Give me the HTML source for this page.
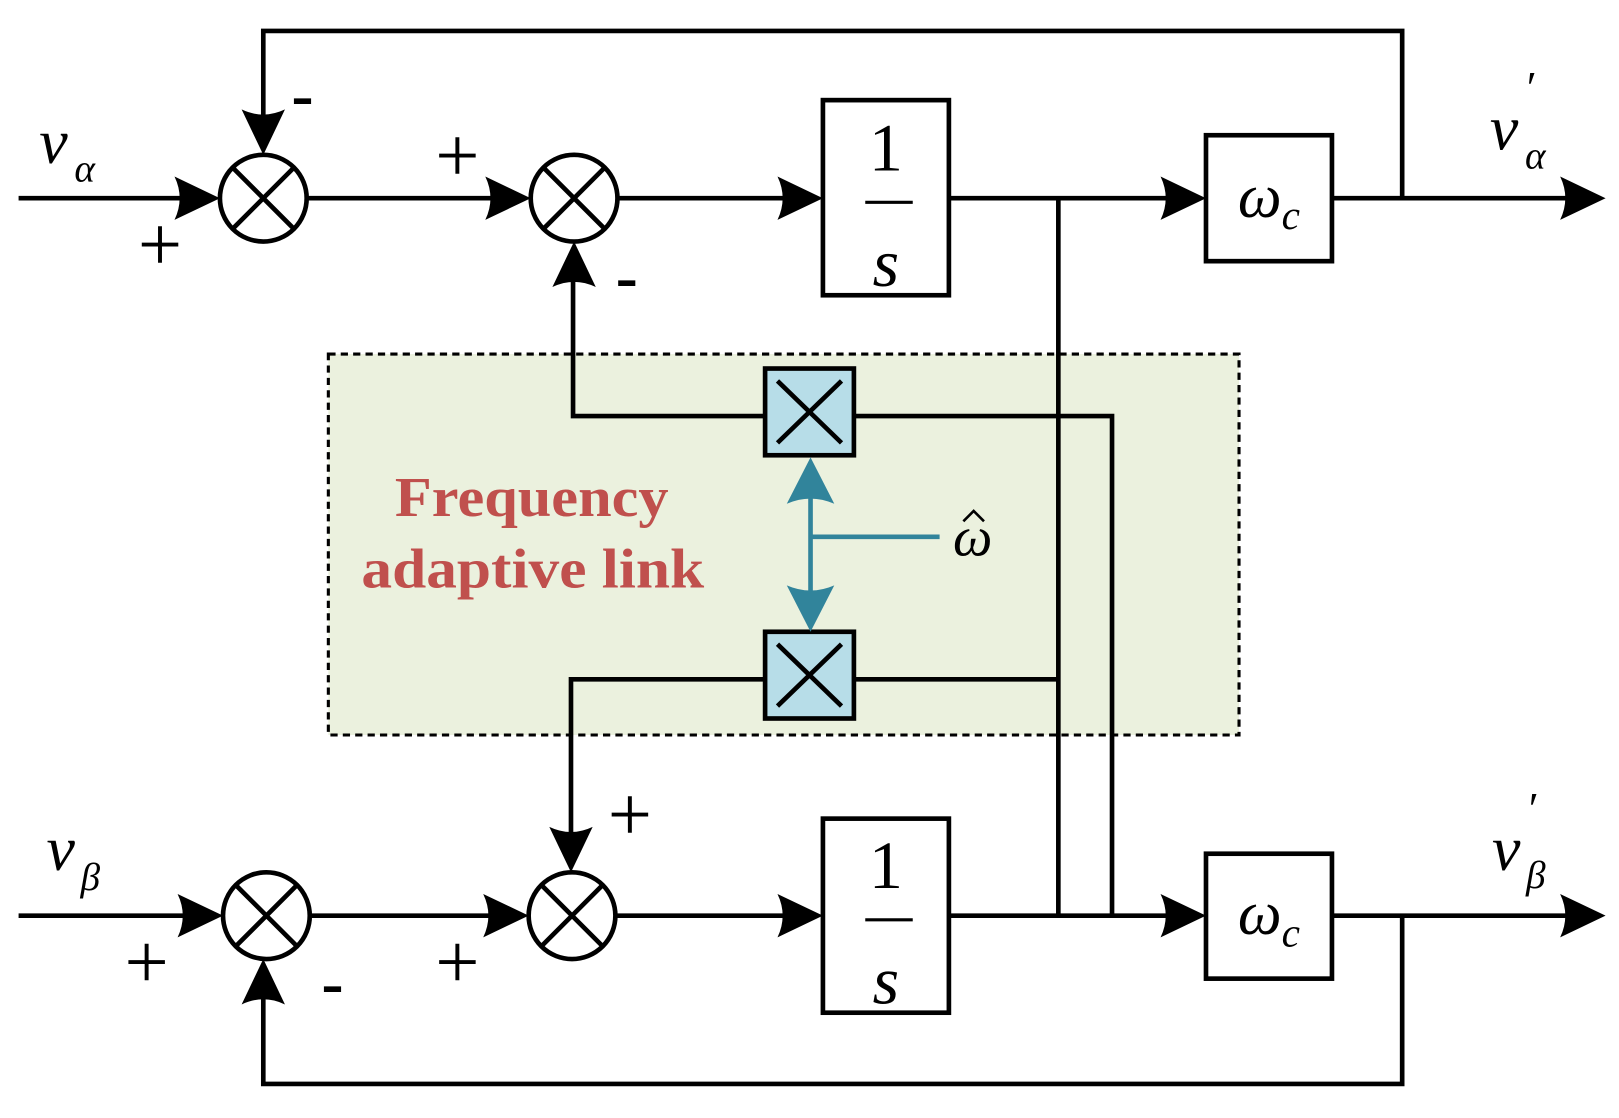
<!DOCTYPE html>
<html><head><meta charset="utf-8"><style>html,body{margin:0;padding:0;background:#fff}svg{display:block}</style></head>
<body>
<svg width="1619" height="1118" viewBox="0 0 1568 1083" preserveAspectRatio="none" xmlns="http://www.w3.org/2000/svg">
<defs>
<path id="ar" d="M0,0 L-44,-21 Q-34,0 -44,21 Z"/>
</defs>
<rect x="318" y="343" width="882" height="369" fill="#ebf1de" stroke="#000" stroke-width="3" stroke-dasharray="7,5"/>
<g fill="none" stroke="#000" stroke-width="4.5">
<line x1="18" y1="192" x2="200" y2="192"/>
<line x1="297" y1="192" x2="500" y2="192"/>
<line x1="598" y1="192" x2="780" y2="192"/>
<line x1="919" y1="192" x2="1150" y2="192"/>
<line x1="1290" y1="192" x2="1530" y2="192"/>
<polyline points="1358,192 1358,30 255,30 255,130"/>
<circle cx="255" cy="192" r="42"/><circle cx="556" cy="192" r="42"/>
<path d="M225,162 L285,222 M285,162 L225,222 M526,162 L586,222 M586,162 L526,222"/>
<rect x="797" y="97" width="122" height="189"/>
<rect x="1168" y="131" width="122" height="122"/>
<line x1="18" y1="887" x2="200" y2="887"/>
<line x1="300" y1="887" x2="500" y2="887"/>
<line x1="596" y1="887" x2="780" y2="887"/>
<line x1="919" y1="887" x2="1150" y2="887"/>
<line x1="1290" y1="887" x2="1530" y2="887"/>
<polyline points="1358,887 1358,1050 255,1050 255,950"/>
<circle cx="258" cy="887" r="42"/><circle cx="554" cy="887" r="42"/>
<path d="M228,857 L288,917 M288,857 L228,917 M524,857 L584,917 M584,857 L524,917"/>
<rect x="797" y="793" width="122" height="188"/>
<rect x="1168" y="827" width="122" height="121"/>
<line x1="1025" y1="192" x2="1025" y2="887"/>
<polyline points="827,403 1077,403 1077,887"/>
<polyline points="741,403 555,403 555,255"/>
<line x1="827" y1="658" x2="1025" y2="658"/>
<polyline points="741,658 553,658 553,825"/>
</g>
<g fill="#000">
<use href="#ar" transform="translate(213,192)"/>
<use href="#ar" transform="translate(514,192)"/>
<use href="#ar" transform="translate(797,192)"/>
<use href="#ar" transform="translate(1168,192)"/>
<use href="#ar" transform="translate(1555,192)"/>
<use href="#ar" transform="translate(255,150) rotate(90)"/>
<use href="#ar" transform="translate(556,234) rotate(-90)"/>
<use href="#ar" transform="translate(216,887)"/>
<use href="#ar" transform="translate(512,887)"/>
<use href="#ar" transform="translate(797,887)"/>
<use href="#ar" transform="translate(1168,887)"/>
<use href="#ar" transform="translate(1555,887)"/>
<use href="#ar" transform="translate(255,929) rotate(-90)"/>
<use href="#ar" transform="translate(553,845) rotate(90)"/>
</g>
<g stroke="#000" stroke-width="4.5" fill="#b7dde8">
<rect x="741" y="357" width="86" height="84"/>
<rect x="741" y="612" width="86" height="84"/>
</g>
<path d="M753,369 L815,429 M815,369 L753,429 M753,624 L815,684 M815,624 L753,684" stroke="#000" stroke-width="4.5"/>
<g stroke="#31849b" stroke-width="4.5" fill="#31849b">
<line x1="785" y1="470" x2="785" y2="585"/>
<line x1="785" y1="520" x2="910" y2="520"/>
<path stroke="none" d="M785,443 L762,488 Q785,478 808,488 Z M785,612 L762,567 Q785,577 808,567 Z"/>
</g>
<g font-family="Liberation Serif, serif" fill="#000">
<text x="38" y="158" font-size="62" font-style="italic">v</text>
<text x="72" y="176" font-size="38" font-style="italic">α</text>
<text x="1443" y="145" font-size="62" font-style="italic">v</text>
<text x="1476" y="100" font-size="44" font-style="italic">′</text>
<text x="1477" y="163" font-size="38" font-style="italic">α</text>
<text x="45" y="843" font-size="62" font-style="italic">v</text>
<text x="78" y="862" font-size="38" font-style="italic">β</text>
<text x="1445" y="843" font-size="62" font-style="italic">v</text>
<text x="1478" y="798" font-size="44" font-style="italic">′</text>
<text x="1478" y="860" font-size="38" font-style="italic">β</text>
<text x="858" y="165" font-size="66" text-anchor="middle">1</text>
<text x="858" y="277" font-size="66" font-style="italic" text-anchor="middle">s</text>
<text x="858" y="860" font-size="66" text-anchor="middle">1</text>
<text x="858" y="972" font-size="66" font-style="italic" text-anchor="middle">s</text>
<text x="1229" y="210" font-size="60" font-style="italic" text-anchor="middle">ω<tspan font-size="40" dy="12">c</tspan></text>
<text x="1229" y="905" font-size="60" font-style="italic" text-anchor="middle">ω<tspan font-size="40" dy="12">c</tspan></text>
<text x="942" y="538" font-size="54" font-style="italic" text-anchor="middle">ω</text>
<g font-size="76" font-weight="normal" text-anchor="middle">
<text x="155" y="262">+</text><text x="443" y="176">+</text>
<text x="610" y="814">+</text><text x="142" y="957">+</text><text x="443" y="957">+</text>
</g>
<g font-size="64" font-weight="bold" text-anchor="middle">
<text x="293" y="113">-</text><text x="607" y="289">-</text><text x="322" y="973">-</text>
</g>
</g>
<path d="M933,505 L943,495 L953,505" fill="none" stroke="#000" stroke-width="2.5"/>
<line x1="838" y1="196" x2="884" y2="196" stroke="#000" stroke-width="3"/>
<line x1="838" y1="891" x2="884" y2="891" stroke="#000" stroke-width="3"/>
<g font-family="Liberation Serif, serif" font-weight="bold" font-size="54" fill="#c0504d" text-anchor="middle">
<text x="515" y="500" textLength="265" lengthAdjust="spacingAndGlyphs">Frequency</text>
<text x="516" y="569" textLength="332" lengthAdjust="spacingAndGlyphs">adaptive link</text>
</g>
</svg>
</body></html>
